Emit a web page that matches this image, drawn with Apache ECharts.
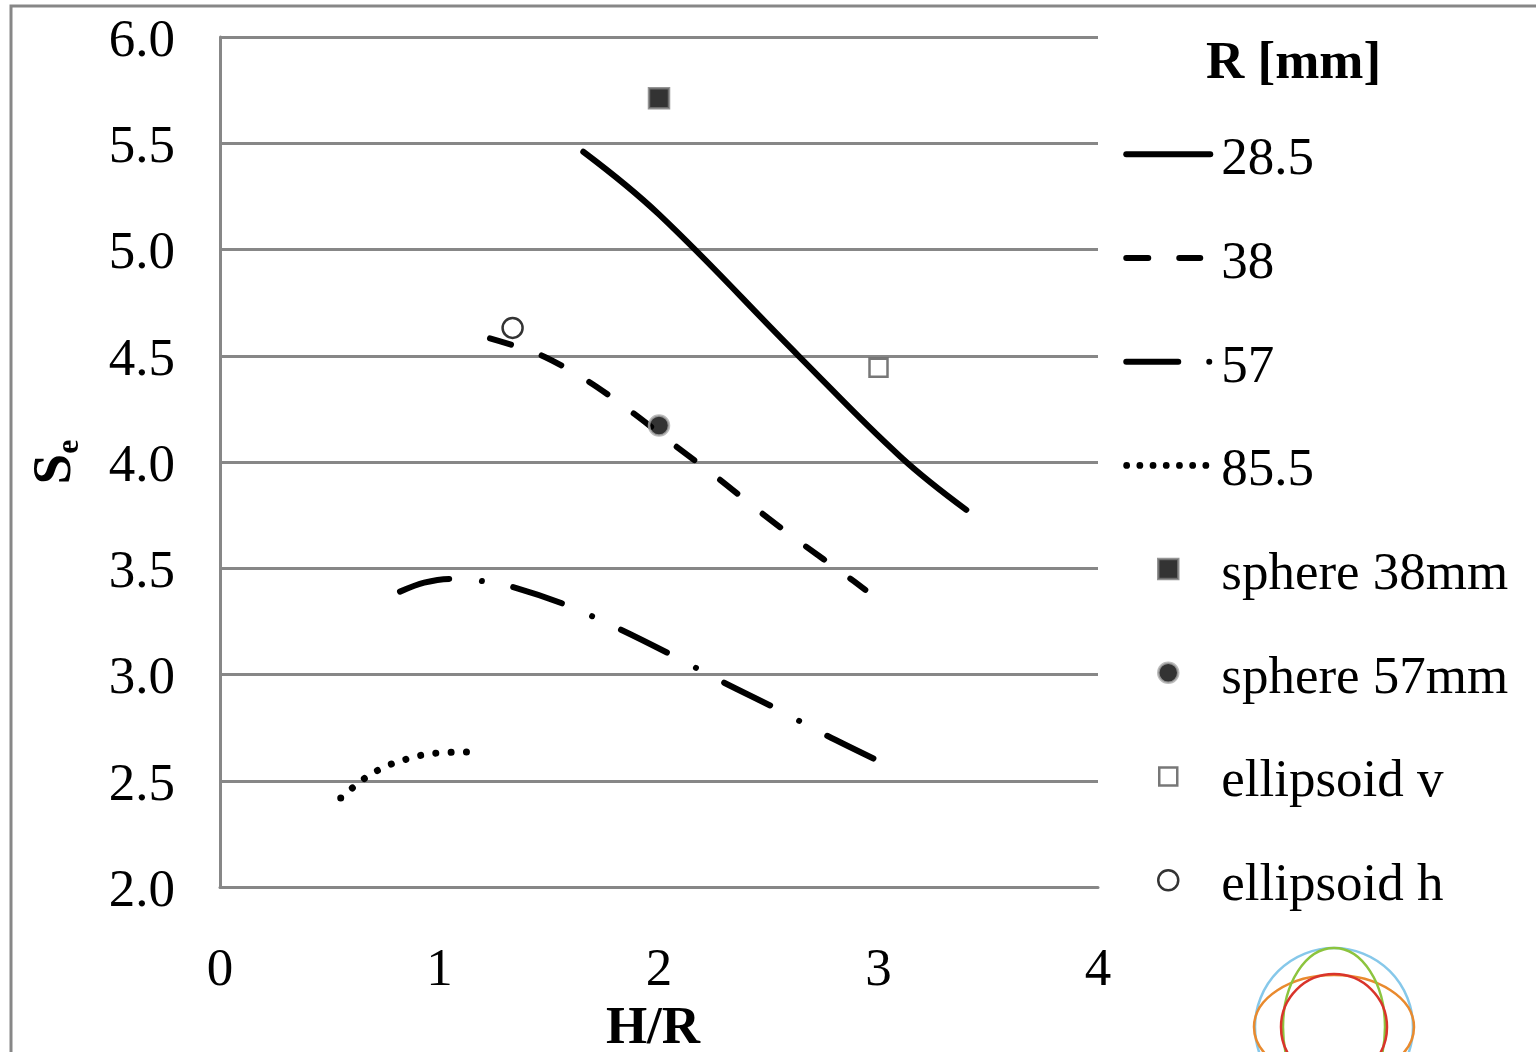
<!DOCTYPE html>
<html><head><meta charset="utf-8">
<script src="https://cdn.jsdelivr.net/npm/echarts@6/dist/echarts.min.js"></script>
<style>html,body{margin:0;padding:0;background:#fff;}#c{width:1536px;height:1052px;}</style>
</head><body><div id="c"></div>
<script>
const FONT = '"Liberation Serif", "Times New Roman", serif';
const GRID = '#878787';
const FS = 53;

// Line series: R [mm] = 28.5, 38, 57, 85.5  (x = H/R, y = Se)
const lineNames = ['28.5', '38', '57', '85.5'];
const r28_5 = [[1.655,5.46],[2.0,5.165],[2.64,4.495],[3.1,4.025],[3.40,3.775]];
const r38 = [[1.23,4.582],[1.46,4.504],[1.68,4.378],[1.88,4.232],[2.07,4.08],[2.27,3.923],[2.46,3.766],[2.65,3.617],[2.85,3.468],[2.94,3.398]];
const r57 = [[0.82,3.39],[0.93,3.432],[1.05,3.45],[1.19,3.44],[1.32,3.416],[1.57,3.33],[1.82,3.214],[2.05,3.096],[2.29,2.965],[2.52,2.847],[2.76,2.715],[2.99,2.598]];
const r85_5 = [[0.55,2.419],[0.603,2.466],[0.657,2.51],[0.717,2.548],[0.782,2.579],[0.847,2.601],[0.916,2.62],[0.984,2.63],[1.056,2.634],[1.124,2.635]];

// Single-point marker series
const markerNames = ['sphere 38mm', 'sphere 57mm', 'ellipsoid v', 'ellipsoid h'];
const sphere38 = [[2.0, 5.712]];
const sphere57 = [[2.0, 4.172]];
const ellipsoidV = [[3.0, 4.443]];
const ellipsoidH = [[1.333, 4.631]];

// Axis ranges
const xRange = [0, 4, 1];
const yRange = [2, 6, 0.5];

const lineData = [r28_5, r38, r57, r85_5];
const lineSmooth = [0.4, 0.3, 0.3, 0.3];
const lineStyles = [
  {width: 6, type: 'solid', cap: 'round'},
  {width: 6, type: [22, 32.5], cap: 'round'},
  {width: 6, type: [51, 33, 0.01, 32], cap: 'round'},
  {width: 7, type: [0.01, 15.3], cap: 'round'}
];

const markerData = [sphere38, sphere57, ellipsoidV, ellipsoidH];
const markerStyles = [
  {symbol: 'rect', size: 20, item: {color: '#000', borderColor: '#7a7a7a', borderWidth: 2.5}},
  {symbol: 'circle', size: 20, item: {color: '#000', borderColor: '#ababab', borderWidth: 2.5}},
  {symbol: 'rect', size: 18, item: {color: '#fff', borderColor: '#555', borderWidth: 2.5}},
  {symbol: 'circle', size: 20, item: {color: '#fff', borderColor: '#000', borderWidth: 2.5}}
];

// Legend key glyphs (90 x 34 box, key drawn on the row line y = 11)
function seg(x1, x2) { return 'M' + x1 + ',8L' + x2 + ',8A3,3,0,0,1,' + x2 + ',14L' + x1 + ',14A3,3,0,0,1,' + x1 + ',8Z'; }
function dot(cx, r) { return 'M' + (cx - r) + ',11A' + r + ',' + r + ',0,1,1,' + (cx + r) + ',11A' + r + ',' + r + ',0,1,1,' + (cx - r) + ',11Z'; }
const BOX = 'M0,0M90,34';
const lineIcons = [
  'path://' + BOX + seg(3, 87),
  'path://' + BOX + seg(3, 25) + seg(56, 77),
  'path://' + BOX + seg(3, 55) + dot(86, 3),
  'path://' + BOX + [3.4, 16.6, 29.8, 43, 56.2, 69.4, 82.6].map(c => dot(c, 3.4)).join('')
];
const markerIcons = [
  'path://' + BOX + 'M35,1L55,1L55,21L35,21Z',
  'path://' + BOX + dot(45, 10),
  'path://' + BOX + 'M36,2L54,2L54,20L36,20Z',
  'path://' + BOX + dot(45, 10)
];

const series = [];
lineNames.forEach((n, i) => {
  series.push({
    name: n, type: 'line', data: lineData[i], smooth: lineSmooth[i], symbol: 'none', showSymbol: false,
    lineStyle: Object.assign({color: '#000'}, lineStyles[i]),
    itemStyle: {color: '#000'}, emphasis: {disabled: true}, z: 3
  });
});
markerNames.forEach((n, i) => {
  series.push({
    name: n, type: 'scatter', data: markerData[i], symbol: markerStyles[i].symbol,
    symbolSize: markerStyles[i].size, itemStyle: markerStyles[i].item, emphasis: {disabled: true}, z: 5
  });
});

const legendData = lineNames.map((n, i) => ({
  name: n, icon: lineIcons[i], itemStyle: {color: '#000', borderWidth: 0, opacity: 1}
})).concat(markerNames.map((n, i) => ({
  name: n, icon: markerIcons[i], itemStyle: markerStyles[i].item
})));

const chart = echarts.init(document.getElementById('c'), null, {renderer: 'canvas'});
chart.setOption({
  animation: false,
  backgroundColor: '#fff',
  textStyle: {fontFamily: FONT},
  title: {
    text: 'R [mm]', left: 1206, top: 34, padding: 0,
    textStyle: {fontFamily: FONT, fontSize: FS, fontWeight: 'bold', color: '#000', lineHeight: 60}
  },
  grid: {left: 220, top: 37, width: 878, height: 850, containLabel: false, outerBoundsMode: 'none'},
  xAxis: {
    type: 'value', min: xRange[0], max: xRange[1], interval: xRange[2],
    axisLine: {show: true, lineStyle: {color: GRID, width: 3}},
    axisTick: {show: false}, splitLine: {show: false},
    axisLabel: {fontFamily: FONT, fontSize: FS, color: '#000', margin: 54, lineHeight: 60},
    name: 'H/R', nameLocation: 'middle', nameGap: 112, nameMoveOverlap: false,
    nameTextStyle: {fontFamily: FONT, fontSize: FS, fontWeight: 'bold', color: '#000', lineHeight: 60, padding: [0, 12, 0, 0]}
  },
  yAxis: {
    type: 'value', min: yRange[0], max: yRange[1], interval: yRange[2],
    axisLine: {show: true, lineStyle: {color: GRID, width: 3}},
    axisTick: {show: false},
    splitLine: {show: true, lineStyle: {color: GRID, width: 3}},
    axisLabel: {fontFamily: FONT, fontSize: FS, color: '#000', margin: 45, lineHeight: 10, verticalAlign: 'top',
      formatter: v => v.toFixed(1)},
    name: '{s|S}{e|e}', nameLocation: 'middle', nameGap: 134, nameRotate: 90, nameMoveOverlap: false,
    nameTextStyle: {
      rich: {
        s: {fontFamily: FONT, fontSize: 55, fontWeight: 'bold', color: '#000', lineHeight: 60},
        e: {fontFamily: FONT, fontSize: 32, fontWeight: 'bold', color: '#000', lineHeight: 60, verticalAlign: 'bottom'}
      }
    }
  },
  legend: {
    orient: 'vertical', left: 1122, top: 130.3, padding: 0,
    itemWidth: 90, itemHeight: 34, itemGap: 43.7, selectedMode: false, symbolKeepAspect: false,
    textStyle: {fontFamily: FONT, fontSize: FS, color: '#000', lineHeight: 60, padding: [0, 0, 0, 3]},
    data: legendData
  },
  graphic: [
    {type: 'rect', shape: {x: 11, y: 6, width: 2000, height: 2000}, style: {fill: 'none', stroke: GRID, lineWidth: 3}, silent: true, z: -10},
    {type: 'circle', shape: {cx: 1334, cy: 1027, r: 79}, style: {fill: 'none', stroke: '#86c8ea', lineWidth: 2.5}, silent: true},
    {type: 'ellipse', shape: {cx: 1334, cy: 1027, rx: 80, ry: 52}, style: {fill: 'none', stroke: '#e98a2e', lineWidth: 2.5}, silent: true},
    {type: 'ellipse', shape: {cx: 1334, cy: 1027, rx: 51, ry: 79}, style: {fill: 'none', stroke: '#8cc43e', lineWidth: 2.5}, silent: true},
    {type: 'circle', shape: {cx: 1334, cy: 1027, r: 53}, style: {fill: 'none', stroke: '#d9342b', lineWidth: 2.5}, silent: true}
  ],
  series: series
});
</script></body></html>
